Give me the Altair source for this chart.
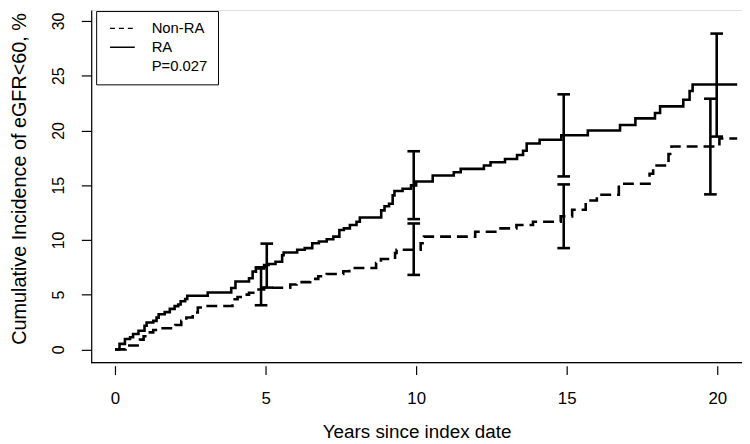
import altair as alt
import pandas as pd

# ---- data ----
ra_t = [0, 0.15, 0.33, 0.5, 0.6, 0.78, 0.98, 1.05, 1.27, 1.38, 1.45, 1.65, 1.82, 1.98,
        2.1, 2.18, 2.33, 2.4, 3.08, 3.86, 4.0, 4.45, 4.57, 4.68, 4.95, 5.1, 5.33, 5.55,
        5.6, 6.05, 6.3, 6.55, 6.77, 7.03, 7.25, 7.45, 7.6, 7.8, 8.02, 8.13, 8.84, 8.95,
        9.1, 9.22, 9.28, 9.55, 9.83, 10.0, 10.55, 11.25, 11.48, 12.25, 12.47, 12.95,
        13.35, 13.55, 13.67, 14.1, 14.82, 15.7, 16.77, 17.28, 17.93, 18.1, 18.87, 19.08,
        19.18, 20.66]
ra_v = [0, 0.5, 0.95, 1.1, 1.4, 1.7, 2.15, 2.45, 2.6, 2.9, 3.2, 3.4, 3.7, 3.95,
        4.1, 4.4, 4.6, 4.9, 5.2, 5.6, 6.2, 6.5, 7.1, 7.4, 7.7, 7.8, 8.0, 8.6,
        8.85, 9.1, 9.25, 9.7, 9.85, 10.06, 10.3, 10.9, 11.05, 11.36, 11.66, 12.05, 12.7, 13.08,
        13.3, 14.07, 14.46, 14.68, 14.98, 15.34, 15.88, 16.18, 16.49, 16.79, 17.09, 17.39,
        17.75, 18.14, 18.8, 19.15, 19.56, 20.0, 20.5, 21.1, 21.6, 22.2, 22.8, 23.6,
        24.2, 24.2]

non_t = [0, 0.35, 0.83, 0.95, 1.1, 1.27, 1.43, 2.0, 2.2, 2.37, 2.58, 2.75, 2.97, 3.9,
         4.07, 4.3, 4.45, 4.67, 4.95, 5.82, 6.03, 6.48, 6.75, 7.03, 7.58, 7.78, 8.67, 8.83,
         9.3, 9.35, 10.15, 10.26, 11.96, 12.73, 13.33, 13.88, 14.8, 15.18, 15.63, 16.0,
         16.73, 17.75, 17.87, 18.38, 18.48, 20.07, 20.66]
non_v = [0, 0.35, 0.89, 1.19, 1.55, 1.76, 1.92, 2.22, 2.61, 2.91, 3.37, 3.82, 3.96, 4.57,
         4.78, 5.0, 5.17, 5.47, 5.63, 5.93, 6.14, 6.44, 6.68, 6.88, 7.13, 7.44, 7.89, 8.25,
         8.8, 9.1, 9.7, 10.3, 10.75, 11.05, 11.36, 11.66, 12.15, 12.75, 13.6, 14.13,
         15.13, 16.04, 16.79, 17.85, 18.54, 19.26, 19.26]

ra_bar_t = [5.04, 9.92, 14.9, 19.98]
ra_bar_lo = [5.64, 11.9, 15.8, 19.44]
ra_bar_hi = [9.66, 18.1, 23.3, 28.85]
non_bar_t = [4.85, 9.92, 14.9, 19.77]
non_bar_lo = [4.03, 6.8, 9.25, 14.16]
non_bar_hi = [7.5, 11.5, 15.07, 22.9]

groups = ["Non-RA", "RA", "P=0.027"]
x_ticks = [0, 5, 10, 15, 20]
y_ticks = [0, 5, 10, 15, 20, 25, 30]
x_title = "Years since index date"
y_title = "Cumulative Incidence of eGFR<60, %"

# ---- tables ----
curves = pd.DataFrame(
    {"t": non_t + ra_t,
     "v": non_v + ra_v,
     "group": ["Non-RA"] * len(non_t) + ["RA"] * len(ra_t)}
)
bars = pd.DataFrame(
    {"t": non_bar_t + ra_bar_t,
     "lo": non_bar_lo + ra_bar_lo,
     "hi": non_bar_hi + ra_bar_hi,
     "group": ["Non-RA"] * 4 + ["RA"] * 4}
)
legend_df = pd.DataFrame({"entry": groups})

FONT = "Liberation Sans"
W, H = 657, 356
LW = 2.6
CAP = 0.21

xs = alt.Scale(domain=[-0.79, 20.82], nice=False, zero=False)
ys = alt.Scale(domain=[-1.22, 31.0], nice=False, zero=False)

xaxis = alt.Axis(values=x_ticks, title=x_title, domain=False, offset=3,
                 tickSize=9, tickWidth=1.2, tickColor="black", grid=False,
                 labelFont=FONT, labelFontSize=17, labelColor="black",
                 labelPadding=16, labelBaseline="top",
                 titleFont=FONT, titleFontSize=19, titleFontWeight="normal",
                 titleColor="black", titleBaseline="alphabetic", titleY=73)
yaxis = alt.Axis(values=y_ticks, title=y_title, domain=True, domainColor="black",
                 domainWidth=1.2, tickSize=10, tickWidth=1.2, tickColor="black",
                 grid=False, labelAngle=270, labelAlign="center",
                 labelBaseline="alphabetic", labelPadding=18,
                 labelFont=FONT, labelFontSize=16, labelColor="black",
                 titleFont=FONT, titleFontSize=20, titleFontWeight="normal",
                 titleColor="black", titleAngle=270, titleAlign="center",
                 titleBaseline="alphabetic", titleX=-66, titleY=H / 2 - 8)

lines = alt.Chart(curves).mark_line(
    interpolate="step-after", strokeWidth=LW, color="black", strokeCap="butt"
).encode(
    x=alt.X("t:Q", scale=xs, axis=xaxis),
    y=alt.Y("v:Q", scale=ys, axis=yaxis),
    strokeDash=alt.StrokeDash(
        "group:N",
        scale=alt.Scale(domain=groups[:2], range=[[11, 6], [1, 0]]),
        legend=None,
    ),
)

# legend-only layer: one point per entry, so nothing is drawn in the plot
legend_layer = alt.Chart(legend_df).mark_line(
    color="black", strokeWidth=1.4, strokeCap="butt"
).encode(
    x=alt.value(0), y=alt.value(0),
    strokeDash=alt.StrokeDash(
        "entry:N",
        scale=alt.Scale(domain=groups, range=[[5, 4], [1, 0], [0, 1000]]),
        legend=alt.Legend(
            title=None, orient="none", legendX=5, legendY=1,
            strokeColor="black", fillColor="white", padding=10,
            cornerRadius=0, symbolType="M-1.923,0H1.923", symbolSize=169,
            symbolStrokeColor="black", symbolStrokeWidth=1.4,
            symbolOffset=9, labelOffset=22,
            labelFont=FONT, labelFontSize=15, labelColor="black",
            rowPadding=3,
        ),
    ),
)

bar_rules = alt.Chart(bars).mark_rule(strokeWidth=LW, color="black").encode(
    x=alt.X("t:Q", scale=xs, axis=xaxis),
    y=alt.Y("lo:Q", scale=ys, axis=yaxis),
    y2="hi:Q",
)

caps = alt.Chart(bars).transform_fold(
    ["lo", "hi"], as_=["end", "val"]
).transform_calculate(
    xa=f"datum.t - {CAP}", xb=f"datum.t + {CAP}"
).mark_rule(strokeWidth=LW, color="black").encode(
    x=alt.X("xa:Q", scale=xs, axis=xaxis),
    x2="xb:Q",
    y=alt.Y("val:Q", scale=ys, axis=yaxis),
)

box_bottom = alt.Chart(pd.DataFrame({"k": [0]})).mark_rule(
    color="black", strokeWidth=1.2
).encode(y=alt.value(H), x=alt.value(0), x2=alt.value(W))

chart = alt.layer(lines, bar_rules, caps, box_bottom, legend_layer).resolve_scale(
    strokeDash="independent"
).resolve_legend(strokeDash="independent").properties(
    width=W, height=H,
    autosize=alt.AutoSizeParams(type="none"),
    padding={"left": 84, "top": 0, "right": 0, "bottom": 80},
).configure_view(stroke=None).configure(background="white")

chart.save("out.html", embed_options={"renderer": "svg", "actions": False})
